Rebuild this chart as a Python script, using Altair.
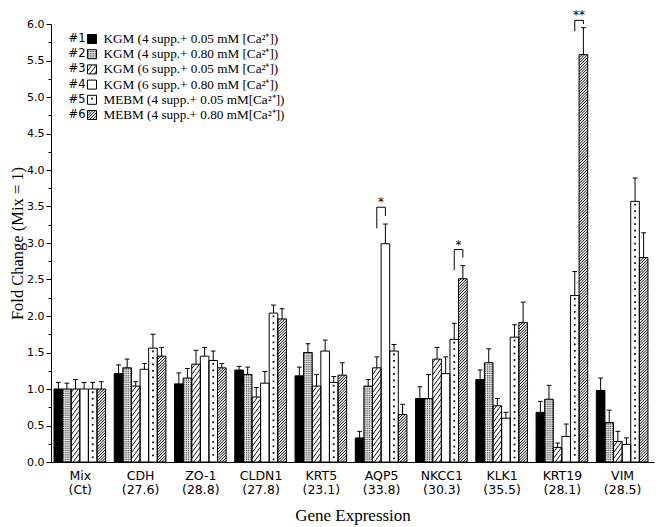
import json
import numpy as np
import pandas as pd
import altair as alt

# ---------------- data ----------------
genes = ["Mix", "CDH", "ZO-1", "CLDN1", "KRT5", "AQP5", "NKCC1", "KLK1", "KRT19", "VIM"]
ct_values = ["Ct", "27.6", "28.8", "27.8", "23.1", "33.8", "30.3", "35.5", "28.1", "28.5"]

series_ids = ["#1", "#2", "#3", "#4", "#5", "#6"]
series_names = [
    "KGM (4 supp.+ 0.05 mM [Ca²⁺])",
    "KGM (4 supp.+ 0.80 mM [Ca²⁺])",
    "KGM (6 supp.+ 0.05 mM [Ca²⁺])",
    "KGM (6 supp.+ 0.80 mM [Ca²⁺])",
    "MEBM (4 supp.+ 0.05 mM[Ca²⁺])",
    "MEBM (4 supp.+ 0.80 mM[Ca²⁺])",
]

s1 = [1.00, 1.21, 1.07, 1.26, 1.18, 0.33, 0.87, 1.13, 0.68, 0.98]
s2 = [1.00, 1.29, 1.15, 1.20, 1.50, 1.04, 0.87, 1.36, 0.86, 0.54]
s3 = [1.00, 1.04, 1.34, 0.89, 1.04, 1.29, 1.41, 0.77, 0.20, 0.28]
s4 = [1.00, 1.27, 1.45, 1.08, 1.52, 2.99, 1.21, 0.60, 0.35, 0.24]
s5 = [1.00, 1.56, 1.39, 2.04, 1.09, 1.52, 1.68, 1.71, 2.28, 3.57]
s6 = [1.00, 1.45, 1.29, 1.96, 1.19, 0.65, 2.51, 1.91, 5.58, 2.80]

e1 = [0.09, 0.12, 0.15, 0.05, 0.12, 0.09, 0.16, 0.13, 0.15, 0.17]
e2 = [0.08, 0.12, 0.13, 0.10, 0.12, 0.09, 0.33, 0.19, 0.19, 0.17]
e3 = [0.13, 0.06, 0.19, 0.13, 0.16, 0.15, 0.16, 0.10, 0.06, 0.14]
e4 = [0.09, 0.08, 0.12, 0.16, 0.15, 0.27, 0.23, 0.08, 0.17, 0.09]
e5 = [0.09, 0.19, 0.13, 0.11, 0.08, 0.09, 0.22, 0.17, 0.33, 0.32]
e6 = [0.10, 0.12, 0.06, 0.14, 0.17, 0.14, 0.18, 0.28, 0.37, 0.34]

# significance brackets
brk_gene = ["AQP5", "NKCC1", "KRT19"]
brk_left = [3, 5, 5]          # series number of left leg
brk_right = [4, 6, 6]         # series number of right leg
brk_top = [3.49, 2.91, 6.05]
brk_left_bottom = [3.20, 2.63, 5.90]
brk_right_bottom = [3.37, 2.80, 6.00]
brk_label = ["*", "*", "**"]

values = [s1, s2, s3, s4, s5, s6]
errors = [e1, e2, e3, e4, e5, e6]

# ---------------- layout ----------------
PLOT_W, PLOT_H = 603, 438
Y_MAX = 6.0
GROUP_PX = 60.26
BAR_PX = 8.6
FIRST_CENTER_PX = 28.8
px_x = GROUP_PX
px_y = PLOT_H / Y_MAX
x_min = -FIRST_CENTER_PX / GROUP_PX
x_max = x_min + PLOT_W / GROUP_PX
bw = BAR_PX / GROUP_PX

base_fill = ["#000000", "#4a4a4a", "#ffffff", "#ffffff", "#ffffff", "#ffffff"]

# bars
bar_rows = []
for s in range(6):
    for g in range(len(genes)):
        xl = g + (s - 3) * bw
        bar_rows.append(dict(xl=xl, xr=xl + bw, xc=xl + bw / 2, yb=0.0, yt=values[s][g],
                             err=values[s][g] + errors[s][g], s=s, fill=base_fill[s],
                             cl=xl + bw / 2 - 2.4 / px_x, cr=xl + bw / 2 + 2.4 / px_x))
bars = pd.DataFrame(bar_rows)

# legend swatches (drawn in data space so they can share the patterns)
leg_rows = []
for r in range(6):
    page_y = 39 + r * 15.2
    yc = (PLOT_H - (page_y - 24)) / px_y
    xl = x_min + (87.5 - 51) / px_x
    xr = x_min + (96.5 - 51) / px_x
    leg_rows.append(dict(xl=xl, xr=xr, yb=yc - 4.5 / px_y, yt=yc + 4.5 / px_y, yc=yc, s=r,
                         fill=base_fill[r], sid=series_ids[r], name=series_names[r]))
legend = pd.DataFrame(leg_rows)

rects = pd.concat([bars[["xl", "xr", "yb", "yt", "s", "fill"]],
                   legend[["xl", "xr", "yb", "yt", "s", "fill"]]], ignore_index=True)

# patterns
lines = []
dots = []
for _, b in rects.iterrows():
    W = (b.xr - b.xl) * px_x
    H = (b.yt - b.yb) * px_y
    s = int(b.s)
    if s in (2, 5):
        slope, spacing, wd = (1.35, 6.0, 0.9) if s == 2 else (1.0, 2.8, 1.0)
        for c in np.arange(-slope * W + spacing / 2, H, spacing):
            X0 = max(0.0, -c / slope)
            X1 = min(W, (H - c) / slope)
            if X1 - X0 > 0.05:
                lines.append(dict(x=b.xl + X0 / px_x, y=b.yb + (slope * X0 + c) / px_y,
                                  x2=b.xl + X1 / px_x, y2=b.yb + (slope * X1 + c) / px_y,
                                  c="#000000", w=wd))
    elif s == 1:
        for Y in np.arange(1.6, H - 0.5, 2.2):
            yy = b.yb + Y / px_y
            lines.append(dict(x=b.xl, y=yy, x2=b.xr, y2=yy, c="#ffffff", w=0.8))
        for k in (0.25, 0.5, 0.75):
            xx = b.xl + k * (b.xr - b.xl)
            lines.append(dict(x=xx, y=b.yb, x2=xx, y2=b.yt, c="#ffffff", w=0.8))
    elif s == 4:
        Y = H - 3.3
        while Y > 1.5:
            dots.append(dict(x=(b.xl + b.xr) / 2, y=b.yb + Y / px_y))
            Y -= 6.5
lines = pd.DataFrame(lines)
dots = pd.DataFrame(dots)

# brackets
brk_rows = []
star_rows = []
for i, gname in enumerate(brk_gene):
    g = genes.index(gname)
    xlft = g + (brk_left[i] - 1 - 2.5) * bw
    xrgt = g + (brk_right[i] - 1 - 2.5) * bw
    brk_rows.append(dict(x=xlft, x2=xlft, y=brk_left_bottom[i], y2=brk_top[i]))
    brk_rows.append(dict(x=xlft, x2=xrgt, y=brk_top[i], y2=brk_top[i]))
    brk_rows.append(dict(x=xrgt, x2=xrgt, y=brk_right_bottom[i], y2=brk_top[i]))
    star_rows.append(dict(x=(xlft + xrgt) / 2, y=brk_top[i], t=brk_label[i]))
brackets = pd.DataFrame(brk_rows)
stars = pd.DataFrame(star_rows)

# ---------------- encodings ----------------
xscale = alt.Scale(domain=[x_min, x_max], nice=False, zero=False)
yscale = alt.Scale(domain=[0, Y_MAX], nice=False, zero=True)

label_lines = [f"{g}|({c})" for g, c in zip(genes, ct_values)]
x_label_expr = "split(" + json.dumps(label_lines) + "[round(datum.value)], '|')"

x_axis = alt.Axis(values=list(range(len(genes))), labelExpr=x_label_expr, ticks=False, tickSize=0,
                  grid=False, domainColor="black", domainWidth=1, labelFont="DejaVu Sans",
                  labelFontSize=12.5, labelColor="black", labelLineHeight=14.5, labelPadding=7,
                  labelAngle=0, title="Gene Expression", titleFont="Liberation Serif",
                  titleFontSize=17, titleFontWeight="normal", titleColor="black", titlePadding=11)

y_ticks = [k * 0.25 for k in range(25)]
major_test = "round(datum.value*4) % 2 == 0"
y_axis = alt.Axis(values=y_ticks,
                  labelExpr=f"({major_test}) ? format(datum.value, '.1f') : ''",
                  tickSize={"condition": {"test": major_test, "value": 5}, "value": 3},
                  tickColor="black", grid=False, domainColor="black", domainWidth=1,
                  labelFont="DejaVu Sans", labelFontSize=11, labelColor="black", labelPadding=2,
                  labelOverlap=False, title="Fold Change (Mix = 1)", titleFont="Liberation Serif",
                  titleFontSize=16.5, titleFontWeight="normal", titleColor="black", titlePadding=1)


def X(f):
    return alt.X(f, type="quantitative", scale=xscale, axis=x_axis)


def Y(f):
    return alt.Y(f, type="quantitative", scale=yscale, axis=y_axis)


fill_layer = alt.Chart(rects).mark_rect(strokeWidth=0).encode(
    x=X("xl"), x2="xr", y=Y("yb"), y2="yt",
    fill=alt.Fill("fill:N", scale=None))

pattern_layer = alt.Chart(lines).mark_rule().encode(
    x=X("x"), x2="x2", y=Y("y"), y2="y2",
    color=alt.Color("c:N", scale=None), strokeWidth=alt.StrokeWidth("w:Q", scale=None))

dot_layer = alt.Chart(dots).mark_square(size=3, color="black", opacity=1).encode(
    x=X("x"), y=Y("y"))

outline_layer = alt.Chart(rects).mark_rect(fillOpacity=0, stroke="black", strokeWidth=1).encode(
    x=X("xl"), x2="xr", y=Y("yb"), y2="yt")

stem_layer = alt.Chart(bars).mark_rule(color="black", strokeWidth=1).encode(
    x=X("xc"), y=Y("yt"), y2="err")

cap_layer = alt.Chart(bars).mark_rule(color="black", strokeWidth=1).encode(
    x=X("cl"), x2="cr", y=Y("err"))

bracket_layer = alt.Chart(brackets).mark_rule(color="black", strokeWidth=1).encode(
    x=X("x"), x2="x2", y=Y("y"), y2="y2")

star_layer = alt.Chart(stars).mark_text(font="DejaVu Sans", fontSize=12, color="#000000",
                                        baseline="alphabetic", dy=-1).encode(
    x=X("x"), y=Y("y"), text="t:N")

id_layer = alt.Chart(legend).mark_text(font="DejaVu Sans", fontSize=11.5, color="black",
                                       align="left", baseline="middle").encode(
    x=alt.value(17.5), y=Y("yc"), text="sid:N")

name_layer = alt.Chart(legend).mark_text(font="Liberation Serif", fontSize=13.2, color="black",
                                         align="left", baseline="middle").encode(
    x=alt.value(52.5), y=Y("yc"), text="name:N")

chart = alt.layer(
    fill_layer, pattern_layer, dot_layer, outline_layer, stem_layer, cap_layer,
    bracket_layer, star_layer, id_layer, name_layer
).properties(
    width=PLOT_W, height=PLOT_H,
    padding={"left": 43, "top": 16, "right": 1, "bottom": 68},
    autosize=alt.AutoSizeParams(type="none"),
).configure_view(stroke=None)

chart.save("out.html", embed_options={"renderer": "svg", "actions": False})
